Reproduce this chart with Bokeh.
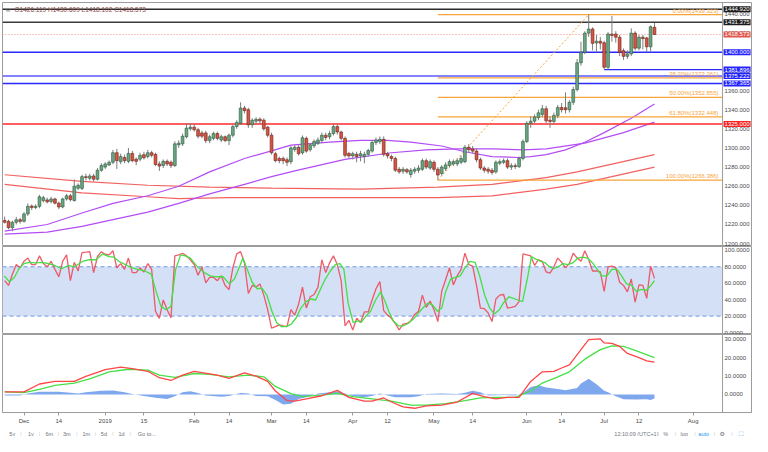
from bokeh.plotting import figure
from bokeh.layouts import column
from bokeh.models import (Range1d, FixedTicker, NumeralTickFormatter, Span, Label,
                          BoxAnnotation, ColumnDataSource)
from bokeh.embed import file_html
from bokeh.resources import INLINE

FONT = "Liberation Sans"

# ---------------- data ----------------
first_bar = -5   # bar index 0 = 3 Dec 2018 (weekday bars)

opens = [1224.3, 1223.3, 1216.7, 1222.3, 1225.0, 1223.3, 1231.0, 1239.3, 1237.7, 1239.0,
         1245.0, 1245.7, 1244.0, 1246.7, 1242.3, 1238.3, 1246.7, 1250.0, 1245.0, 1258.0,
         1257.7, 1270.0, 1268.3, 1270.7, 1267.3, 1276.7, 1280.0, 1282.3, 1285.0, 1295.0,
         1285.7, 1290.0, 1286.0, 1294.3, 1288.3, 1288.3, 1293.0, 1291.0, 1295.0, 1293.3,
         1283.3, 1281.7, 1286.0, 1285.0, 1281.7, 1303.3, 1304.3, 1311.7, 1320.0, 1321.7,
         1319.0, 1315.7, 1315.7, 1307.7, 1310.0, 1315.0, 1308.3, 1311.7, 1307.7, 1313.3,
         1322.3, 1325.7, 1341.7, 1340.0, 1324.3, 1328.0, 1330.0, 1329.0, 1321.7, 1313.3,
         1294.0, 1289.0, 1289.0, 1287.7, 1285.7, 1298.3, 1300.7, 1295.0, 1310.0, 1298.3,
         1302.3, 1305.0, 1307.7, 1313.3, 1311.7, 1315.0, 1322.3, 1316.7, 1310.0, 1294.3,
         1291.7, 1293.3, 1291.7, 1291.0, 1293.3, 1296.7, 1305.7, 1306.7, 1309.0, 1294.0,
         1291.0, 1289.0, 1277.7, 1275.7, 1277.3, 1272.3, 1275.7, 1276.7, 1277.7, 1286.7,
         1279.0, 1285.0, 1277.7, 1273.3, 1278.3, 1281.7, 1283.3, 1283.3, 1285.0, 1285.7,
         1300.7, 1299.0, 1296.7, 1287.7, 1279.0, 1277.7, 1276.7, 1275.0, 1284.0, 1285.0,
         1286.7, 1280.0, 1281.5, 1280.5, 1289.0, 1306.7, 1325.7, 1328.0, 1331.7, 1335.0,
         1341.0, 1329.0, 1327.7, 1334.0, 1342.3, 1342.0, 1340.0, 1347.7, 1361.0, 1389.0,
         1400.0, 1420.0, 1424.3, 1409.7, 1411.5, 1410.0, 1384.3, 1419.0, 1419.0, 1415.7,
         1401.7, 1395.7, 1398.3, 1420.0, 1404.3, 1415.7, 1415.0, 1405.7, 1426.119]
highs = [1228.3, 1225.0, 1224.0, 1228.0, 1227.0, 1233.0, 1242.0, 1241.0, 1241.0, 1251.0,
         1250.0, 1248.0, 1249.0, 1248.0, 1244.0, 1248.0, 1252.0, 1252.0, 1267.0, 1263.0,
         1272.0, 1273.0, 1273.0, 1273.0, 1279.0, 1284.0, 1285.0, 1287.0, 1298.0, 1299.0,
         1294.0, 1293.0, 1300.0, 1297.0, 1290.0, 1295.0, 1296.0, 1298.0, 1297.0, 1295.0,
         1286.0, 1288.0, 1288.0, 1287.0, 1307.0, 1308.0, 1315.0, 1326.0, 1326.0, 1325.0,
         1321.0, 1318.0, 1318.0, 1314.0, 1317.0, 1317.0, 1314.0, 1313.0, 1315.0, 1324.0,
         1329.0, 1347.7, 1344.0, 1342.0, 1331.0, 1332.0, 1332.0, 1331.0, 1323.0, 1316.0,
         1296.0, 1291.0, 1291.0, 1290.0, 1302.0, 1303.0, 1303.0, 1313.0, 1312.0, 1305.0,
         1309.0, 1311.0, 1316.0, 1316.0, 1318.0, 1325.0, 1325.0, 1318.0, 1312.0, 1296.0,
         1296.0, 1296.0, 1297.0, 1296.0, 1299.0, 1308.0, 1311.0, 1312.0, 1312.0, 1296.0,
         1293.0, 1291.0, 1280.0, 1280.0, 1279.0, 1279.0, 1280.0, 1282.0, 1289.0, 1289.0,
         1288.0, 1287.0, 1280.0, 1282.0, 1285.0, 1288.0, 1288.0, 1289.0, 1292.0, 1303.0,
         1304.0, 1302.0, 1299.0, 1290.0, 1281.0, 1280.0, 1279.0, 1287.0, 1288.0, 1289.0,
         1289.0, 1284.0, 1284.0, 1291.0, 1309.0, 1328.0, 1333.0, 1335.0, 1340.0, 1345.0,
         1344.0, 1333.0, 1337.0, 1345.0, 1347.0, 1358.0, 1350.0, 1364.0, 1393.0, 1411.0,
         1422.0, 1439.3, 1426.0, 1418.0, 1416.0, 1412.0, 1421.0, 1438.0, 1422.0, 1418.0,
         1404.0, 1402.0, 1425.0, 1422.0, 1418.0, 1418.0, 1416.0, 1428.0, 1430.609]
lows = [1221.0, 1215.0, 1213.0, 1220.0, 1221.0, 1222.0, 1229.0, 1235.0, 1236.0, 1237.0,
        1243.0, 1242.0, 1242.0, 1241.0, 1236.0, 1237.0, 1245.0, 1244.0, 1244.0, 1256.0,
        1256.0, 1266.0, 1266.0, 1265.0, 1266.0, 1275.0, 1278.0, 1281.0, 1283.0, 1278.0,
        1283.0, 1284.0, 1284.0, 1285.0, 1282.0, 1286.0, 1288.0, 1289.0, 1290.0, 1281.0,
        1276.0, 1279.0, 1281.0, 1279.0, 1280.0, 1300.0, 1302.0, 1310.0, 1318.0, 1317.0,
        1310.0, 1310.0, 1305.0, 1305.0, 1308.0, 1308.0, 1306.0, 1306.0, 1303.0, 1311.0,
        1320.0, 1324.0, 1336.0, 1321.0, 1321.0, 1325.0, 1325.0, 1318.0, 1311.0, 1293.0,
        1285.0, 1284.0, 1283.0, 1281.0, 1283.0, 1296.0, 1292.0, 1293.0, 1295.0, 1296.0,
        1300.0, 1303.0, 1305.0, 1308.0, 1309.0, 1313.0, 1314.0, 1308.0, 1290.0, 1289.0,
        1288.0, 1285.0, 1286.0, 1284.0, 1291.0, 1295.0, 1303.0, 1304.0, 1291.0, 1289.0,
        1286.0, 1275.0, 1273.0, 1273.0, 1273.0, 1269.0, 1273.0, 1274.0, 1276.0, 1278.0,
        1277.0, 1275.0, 1266.4, 1271.0, 1276.0, 1280.0, 1281.0, 1281.0, 1283.0, 1284.0,
        1295.0, 1294.0, 1285.0, 1277.0, 1274.0, 1273.0, 1272.0, 1273.0, 1282.0, 1283.0,
        1278.0, 1277.0, 1278.0, 1279.0, 1287.0, 1305.0, 1321.0, 1326.0, 1329.0, 1332.0,
        1326.0, 1321.0, 1325.0, 1331.0, 1337.0, 1336.0, 1337.0, 1345.0, 1359.0, 1386.0,
        1398.0, 1416.0, 1402.0, 1400.0, 1403.0, 1381.9, 1382.0, 1411.0, 1410.0, 1396.0,
        1392.0, 1393.0, 1396.0, 1402.0, 1402.0, 1403.0, 1400.0, 1401.0, 1418.102]
closes = [1222.3, 1216.7, 1222.3, 1225.0, 1223.3, 1231.0, 1239.0, 1237.7, 1239.0, 1249.0,
          1248.0, 1243.7, 1246.7, 1242.3, 1238.3, 1246.7, 1250.0, 1246.0, 1260.0, 1261.0,
          1270.0, 1269.0, 1270.7, 1267.3, 1276.7, 1281.7, 1283.3, 1285.0, 1295.0, 1286.7,
          1291.0, 1286.7, 1294.3, 1286.7, 1286.0, 1292.3, 1289.7, 1295.0, 1292.3, 1282.7,
          1281.0, 1286.0, 1283.3, 1281.7, 1304.3, 1305.0, 1312.3, 1320.7, 1321.7, 1319.0,
          1312.3, 1312.3, 1307.7, 1311.7, 1315.0, 1310.0, 1311.7, 1307.7, 1313.3, 1322.3,
          1326.7, 1341.7, 1339.0, 1324.3, 1329.0, 1330.0, 1328.3, 1320.0, 1313.3, 1295.0,
          1286.7, 1286.7, 1286.7, 1285.0, 1300.0, 1300.7, 1294.0, 1310.7, 1296.7, 1303.3,
          1306.7, 1308.3, 1313.3, 1311.0, 1315.0, 1322.3, 1316.7, 1310.0, 1292.3, 1291.7,
          1294.0, 1291.0, 1294.0, 1293.3, 1297.3, 1305.7, 1308.3, 1309.0, 1293.3, 1291.7,
          1289.0, 1276.7, 1275.0, 1277.7, 1275.0, 1276.7, 1277.7, 1279.0, 1286.7, 1280.0,
          1285.7, 1277.7, 1271.7, 1280.0, 1282.3, 1285.7, 1285.7, 1286.7, 1289.0, 1300.7,
          1298.3, 1296.7, 1287.7, 1279.0, 1276.7, 1275.7, 1274.3, 1285.0, 1285.7, 1286.7,
          1280.0, 1281.5, 1280.5, 1289.0, 1306.7, 1325.7, 1328.0, 1332.3, 1336.7, 1341.0,
          1328.3, 1327.7, 1334.0, 1342.3, 1340.0, 1340.0, 1347.7, 1361.0, 1389.0, 1400.0,
          1420.0, 1424.3, 1409.3, 1411.5, 1409.5, 1384.3, 1419.0, 1417.5, 1415.7, 1400.0,
          1395.7, 1398.3, 1420.0, 1404.3, 1415.7, 1414.3, 1405.7, 1426.7, 1418.573]

# moving averages
ma_fast_idx = [-5, 6, 15, 23, 32, 40, 48, 57, 64, 69, 79, 87, 94, 100, 108, 114, 121, 128, 131, 135, 140, 145, 150, 157, 163]
ma_fast_val = [1213, 1220, 1232, 1242, 1250, 1260, 1275, 1289, 1297, 1303, 1306, 1308, 1308, 1306, 1302, 1296, 1291, 1290, 1291, 1293, 1298, 1306, 1316, 1331, 1346]
ma_slow_idx = [-5, 6, 15, 23, 32, 40, 48, 57, 64, 70, 83, 95, 104, 112, 121, 129, 135, 145, 155, 163]
ma_slow_val = [1210, 1212, 1218, 1225, 1233, 1242, 1252, 1262, 1270, 1276, 1288, 1295, 1298, 1299, 1299, 1298, 1299, 1305, 1316, 1327]
ma_red1_idx = [-5, 15, 32, 48, 64, 87, 107, 121, 135, 143, 152, 163]
ma_red1_val = [1272, 1265, 1261, 1259, 1258, 1257, 1259, 1262, 1269, 1275, 1283, 1293]
ma_red2_idx = [-5, 15, 32, 40, 53, 64, 87, 107, 121, 135, 143, 152, 163]
ma_red2_val = [1262, 1253, 1249, 1247, 1248, 1248, 1248, 1248, 1250, 1257, 1262, 1270, 1280]

# horizontal levels
level_prices = [1444.920, 1431.375, 1400.000, 1375.222, 1367.365, 1325.000]
partial_level = 1381.896
partial_level_start = 150
fib_prices = [1439.323, 1373.261, 1352.855, 1332.448, 1266.386]
fib_names = ["0.00%", "38.20%", "50.00%", "61.80%", "100.00%"]
fib_start = 107
fib_peak = 146
tag_prices = [1444.920, 1431.375, 1418.573, 1400.000, 1381.896, 1375.222, 1367.365, 1325.000]

# stochastic
stoch_k = [63.1, 57.3, 71.0, 82.7, 78.8, 86.7, 90.6, 82.7, 82.7, 93.3,
           83.9, 80.0, 86.7, 76.9, 67.8, 86.7, 94.5, 63.1, 85.5, 74.9, 97.3,
           97.8,
           98.4, 72.9, 92.5, 98.4, 95.3, 94.5, 99.6, 78.8, 83.9, 76.9,
           90.6, 72.9, 72.9, 78.8, 73.7, 83.9, 76.9, 25.9, 17.3, 39.6,
           27.8, 18.0, 93.3, 94.5, 96.5, 93.3, 88.6, 82.7, 69.8, 80.0,
           60.4, 67.1, 67.1, 63.1, 69.0, 57.3, 52.2, 78.8, 95.7, 98.4,
           84.7, 47.5, 57.3, 55.3, 59.2, 45.5, 27.8, 5.4, 7.1, 9.4,
           8.2, 7.1, 27.8, 21.2, 34.5, 55.3, 29.8, 43.5, 46.3, 55.3,
           88.6, 72.9, 84.7, 93.3, 82.7, 63.1, 8.2, 14.9, 3.1, 17.3,
           12.2, 25.1, 25.1, 39.6, 53.3, 62.0, 26.7, 21.2, 17.3, 11.0, 3.1, 10.2, 11.0,
           14.1, 22.0, 25.9, 45.5, 30.6, 38.4, 27.8, 13.3, 50.2, 64.3,
           78.8, 58.0, 69.0, 76.9, 96.5, 82.7, 80.8, 57.3, 29.8, 29.0,
           23.9, 13.3, 40.8, 45.5, 46.3, 29.8,
           30.5,
           31.8, 37.6, 95.7, 94.5, 93.3, 81.6, 88.6, 86.7, 73.7, 72.2,
           80.0, 90.6, 85.5, 78.8, 83.9, 96.5, 90.6, 86.7, 99.6, 88.6,
           74.9, 74.9, 73.7, 50.2, 80.0, 80.8, 78.8, 61.2, 57.3, 49.4,
           65.1, 36.9, 58.0, 57.3, 41.6, 80.8, 65.9]
stoch_d_idx = [-5.1, -3.8, -2.5, -1.3, 0.0, 1.3, 2.9, 4.6, 6.3, 8.0, 9.7, 11.4, 13.0, 15.2, 16.9,
               18.6, 20.3, 22.0, 23.2, 24.5, 26.2, 27.9, 29.5, 31.2, 32.9, 34.2, 35.4, 36.7, 38.0,
               39.2, 40.5, 41.7, 43.0, 44.7, 46.4, 48.1, 49.7, 51.4, 53.1, 54.4, 55.6, 56.6, 57.7,
               59.0, 60.3, 61.5, 62.8, 64.1, 65.3, 66.6, 67.8, 69.1, 70.4, 71.6, 72.9, 74.2, 75.4,
               76.7, 77.9, 79.2, 80.5, 81.7, 82.7, 83.8, 85.1, 86.4,
               87.1, 88.4, 89.6, 90.9, 92.2, 93.2, 94.3, 95.5, 96.8, 98.1, 99.3, 100.6, 101.8,
               103.1, 104.4, 105.6, 106.9, 108.0, 109.0, 110.3, 111.5, 112.8, 114.0, 115.3, 116.6,
               117.8, 119.1, 120.4, 121.6, 122.9, 124.1, 125.4, 127.7, 128.9, 130.2, 131.2, 132.3,
               133.6, 134.8,
               135.6, 136.9, 138.1, 139.4, 140.6, 141.9, 143.2, 144.4, 145.7, 147.0, 148.2, 149.4,
               150.7, 152.0, 153.3, 154.5, 155.8, 157.1, 158.3, 159.6, 160.9, 162.1, 163.0]
stoch_d = [69.0, 61.9, 67.0, 77.6, 83.9, 85.5, 84.7, 85.5, 83.9, 81.6, 77.6, 81.6, 80.0, 86.7, 88.6,
           88.6, 95.7, 92.5, 91.8, 86.7, 82.7, 78.8, 76.9, 74.9, 71.0, 49.4, 31.8, 27.8, 31.8,
           76.9, 94.5, 93.3, 90.6, 80.8, 73.7, 69.0, 67.8, 68.2, 59.2, 65.1, 78.8, 90.6, 76.9,
           61.2, 53.3, 54.1, 45.5, 25.9, 12.2, 7.1, 7.1, 10.2, 18.0, 29.8, 37.6, 40.8, 39.6,
           53.3, 65.1, 74.9, 82.7, 83.9, 76.9, 35.7, 12.2, 14.1,
           12.2, 20.0, 25.9, 39.6, 49.4, 39.6, 25.9, 14.1, 8.2, 8.2, 11.0, 16.1, 22.7,
           29.8, 35.7, 33.7, 25.9, 29.8, 49.4, 65.1, 67.1, 69.0, 78.8, 86.7, 85.5,
           69.0, 45.5, 29.8, 22.7, 27.8, 36.9, 43.5, 39.6, 37.6, 67.1, 92.5, 89.4,
           86.7, 84.7,
           80.8, 77.6, 80.0, 83.9, 82.7, 84.7, 90.6, 91.8, 90.6, 84.7, 76.9, 69.0,
           69.0, 76.9, 76.9, 69.0, 59.2, 57.3, 50.2, 52.5, 51.4, 57.3, 63.1]
stoch_band = [20, 80]

# MACD
macd_idx = [-5, 0, 4, 8, 13, 16, 21, 25, 28, 32, 35, 38, 41, 44, 46, 50, 53, 57, 60, 63, 65, 68, 70,
            73, 77, 81, 84, 88, 90, 93, 95, 98, 101, 104, 108, 112, 116, 119, 122, 125, 128, 131,
            134, 137, 139, 141, 144, 146, 149, 150, 152, 154, 156, 159, 161, 163]
macd_val = [1.4, 1.4, 5.7, 7.1, 7.1, 9.8, 13.5, 14.9, 14.0, 12.6, 9.1, 7.6, 10.5, 12.6, 11.9, 10.5,
            8.8, 11.7, 10.0, 7.1, 1.9, -3.3, -3.6, -2.4, -0.7, 2.2, -1.6, -3.6, -3.6, -1.9, -4.1,
            -6.7, -7.5, -6.2, -5.8, -4.1, 0.6, -1.2, -2.4, -1.6, -1.6, 7.1, 12.3, 12.6, 14.4, 16.1,
            24.4, 29.8, 30.2, 28.0, 27.8, 26.1, 22.3, 20.0, 18.3, 17.6]
signal_idx = [-5, 0, 4, 8, 13, 17, 22, 27, 32, 35, 39, 44, 48, 53, 58, 62, 65, 69, 72, 77, 81, 85,
              90, 95, 100, 104, 109, 114, 118, 122, 127, 131, 134, 138, 141, 145, 149, 152, 155, 158, 163]
signal_val = [1.4, 1.0, 2.8, 5.0, 6.2, 8.5, 12.3, 13.7, 13.2, 10.5, 9.3, 11.4, 10.9, 9.6, 10.5, 9.6,
              4.4, 0.5, -1.2, -0.4, 0.6, -1.2, -2.4, -3.6, -5.8, -5.8, -5.0, -3.3, -1.9, -1.6, -1.6,
              1.9, 6.2, 9.6, 12.3, 19.2, 24.4, 26.4, 26.1, 24.0, 20.0]
hist_idx = [-5, -1, 1, 4, 9, 12, 14, 16, 20, 23, 26, 28, 31, 34, 37, 39, 41, 43, 45, 47, 51, 53, 56,
            58, 60, 63, 65, 67, 69, 71, 73, 76, 78, 81, 83, 85, 88, 90, 92, 94, 96, 100, 102, 104,
            108, 112, 114, 116, 118, 120, 124, 127, 129, 131, 133, 135, 138, 140, 143, 144, 146,
            148, 150, 151, 153, 155, 158, 161, 162, 163]
hist_val = [-0.5, -0.5, 0.5, 1.5, 1.5, 1.0, 0.5, 1.2, 2.0, 2.2, 1.2, 0.3, -0.8, -1.8, -2.5, -1.0,
            1.2, 1.8, 0.8, -0.5, -1.3, -0.8, 0.8, 0.5, -0.8, -1.0, -3.0, -5.5, -5.0, -2.5, -1.5,
            0.5, 1.0, 1.8, 0.5, -0.8, -1.5, -0.8, 0.5, -0.5, -1.5, -1.5, -1.0, 0.3, 0.5, 0.3, 1.0,
            2.0, 1.2, -0.5, -0.3, -0.5, 1.0, 4.0, 5.0, 3.8, 3.0, 2.3, 3.5, 6.0, 8.6, 5.5, 2.0,
            1.2, -1.0, -2.6, -2.8, -2.6, -3.0, -2.2]

date_ticks = [0, 9, 21, 31, 44, 53, 64, 73, 85, 94, 106, 116, 130, 139, 150, 159, 173]
date_labels = ["Dec", "14", "2019", "15", "Feb", "14", "Mar", "14", "Apr", "12", "May", "14",
               "Jun", "14", "Jul", "12", "Aug"]
price_ticks = [1200, 1220, 1240, 1260, 1280, 1300, 1320, 1340, 1360, 1380, 1400, 1420, 1440]
stoch_ticks = [0, 20, 40, 60, 80, 100]
macd_ticks = [0, 10, 20, 30]

assert len(opens) == len(highs) == len(lows) == len(closes) == len(stoch_k) == 169

# ---------------- layout ----------------
W = 752
BL = 2
AX = "#9c9c9c"
TXT = "#4a4a4a"
X0, XEDGE = -5.56, 180.6          # visible bar span (price-scale strip sits to the right)
AXIS_PX = 29
FRAME_W = W - BL
x_end = X0 + (XEDGE - X0) * FRAME_W / (FRAME_W - AXIS_PX)
x_rng = Range1d(X0, x_end)


def style_y(p, ticks, fmt):
    ax = p.yaxis[0]
    ax.ticker = FixedTicker(ticks=ticks)
    ax.formatter = NumeralTickFormatter(format=fmt)
    ax.major_label_text_font = FONT
    ax.major_label_text_font_size = "6px"
    ax.major_label_text_color = TXT
    ax.axis_line_color = None
    ax.major_tick_line_color = None
    ax.major_tick_out = 0
    ax.major_tick_in = 0
    ax.minor_tick_line_color = None
    ax.major_label_standoff = -(AXIS_PX - 2)


def base(height, yr, top=0, bottom=0, xaxis=False):
    p = figure(width=W, height=height, x_range=x_rng, y_range=yr, output_backend="svg",
               toolbar_location=None, y_axis_location="right",
               x_axis_location="below" if xaxis else None,
               min_border_left=BL, min_border_right=0, min_border_top=top,
               min_border_bottom=bottom)
    p.grid.visible = False
    p.outline_line_color = AX
    p.background_fill_color = "white"
    p.border_fill_color = "white"
    p.add_layout(Span(location=XEDGE, dimension="height", line_color=AX, line_width=1))
    return p


def hline(p, y, x0=X0, **kw):
    p.segment(x0=[x0], x1=[XEDGE], y0=[y], y1=[y], **kw)


# ---- main price pane ----
p1 = base(246, Range1d(1197, 1452), top=2)
style_y(p1, price_ticks, "0.000")

bars = list(range(first_bar, first_bar + len(opens)))


def candle_source(rising):
    d = dict(x=[], top=[], bot=[])
    for b, o, c in zip(bars, opens, closes):
        if (c >= o) == rising:
            d["x"].append(b)
            d["top"].append(max(o, c))
            d["bot"].append(min(o, c))
    return ColumnDataSource(d)


# MAs
p1.line(ma_red1_idx, ma_red1_val, line_color="#f24f4f", line_width=1.2, line_alpha=0.9)
p1.line(ma_red2_idx, ma_red2_val, line_color="#f24f4f", line_width=1.2, line_alpha=0.9)
p1.line(ma_slow_idx, ma_slow_val, line_color="#b44cf5", line_width=1.2)
p1.line(ma_fast_idx, ma_fast_val, line_color="#b44cf5", line_width=1.2)

# horizontal levels
lvl_colors = ["#2b2b2b", "#3a3a3a", "#2a2aff", "#5a5aff", "#2a2aff", "#ff2a2a"]
for price, col in zip(level_prices, lvl_colors):
    hline(p1, price, line_color=col, line_width=1.4)
hline(p1, partial_level, x0=partial_level_start, line_color="#2a2aff", line_width=1.4)
hline(p1, closes[-1], line_color="#f08a8a", line_width=1, line_dash="1 2")

# fibonacci
FIB = "#f7a43a"
for price in fib_prices:
    hline(p1, price, x0=fib_start, line_color=FIB, line_width=1.3)
p1.line([fib_start, fib_peak], [fib_prices[-1], fib_prices[0]], line_color=FIB,
        line_width=1, line_dash="2 2")
for name, price in zip(fib_names, fib_prices):
    p1.add_layout(Label(x=XEDGE, y=price, x_offset=-4, y_offset=1,
                        text=f"{name}({price:.3f})", text_align="right",
                        text_baseline="bottom", text_font=FONT, text_font_size="6px",
                        text_color=FIB))

# candles
p1.segment(x0=bars, x1=bars, y0=highs, y1=lows, line_color="#7d7d80", line_width=1)
p1.vbar(x="x", width=0.72, top="top", bottom="bot", source=candle_source(True),
        fill_color="#6ba583", line_color="#2a5a3c", line_width=0.6)
p1.vbar(x="x", width=0.72, top="top", bottom="bot", source=candle_source(False),
        fill_color="#d75442", line_color="#6a2218", line_width=0.6)

# price tags on the price scale
tag_colors = ["#1c1c1c", "#1c1c1c", "#e2574c", "#2323ff", "#2323ff", "#2323ff", "#2323ff", "#ff2020"]
for price, col in zip(tag_prices, tag_colors):
    p1.add_layout(Label(x=XEDGE, y=price, x_offset=1, text=f"{price:.3f}",
                        text_align="left", text_baseline="middle", text_font=FONT,
                        text_font_size="6px", text_color="white",
                        background_fill_color=col, padding=1))

# OHLC legend
p1.add_layout(Label(x=X0, y=1452, x_offset=3, y_offset=-3, text="\u2296",
                    text_baseline="top", text_font="DejaVu Sans", text_font_size="6px",
                    text_color="#888888"))
p1.add_layout(Label(x=X0, y=1452, x_offset=12, y_offset=-3,
                    text=f"O{opens[-1]:.3f}  H{highs[-1]:.3f}  L{lows[-1]:.3f}  C{closes[-1]:.3f}",
                    text_baseline="top", text_font=FONT, text_font_size="6.5px",
                    text_color="#8c4a46"))

# ---- stochastic pane ----
p2 = base(88, Range1d(-2.4, 104.7))
style_y(p2, stoch_ticks, "0.0000")
p2.add_layout(BoxAnnotation(bottom=stoch_band[0], top=stoch_band[1], left=X0, right=XEDGE,
                            fill_color="#d3e0f6", fill_alpha=1.0, line_alpha=0,
                            level="underlay"))
for lv in stoch_band:
    hline(p2, lv, line_color="#7095e4", line_width=1, line_dash="4 3")
p2.line(bars, stoch_k, line_color="#ee4a58", line_width=1.3, line_alpha=0.9)
p2.line(stoch_d_idx, stoch_d, line_color="#45de45", line_width=1.3)

# ---- MACD pane ----
p3 = base(92, Range1d(-9.8, 32.6), bottom=13, xaxis=True)
style_y(p3, macd_ticks, "0.0000")
p3.varea(x=hist_idx, y1=[0] * len(hist_idx), y2=hist_val, fill_color="#7fa7ee")
p3.line(signal_idx, signal_val, line_color="#45e045", line_width=1.3)
p3.line(macd_idx, macd_val, line_color="#ff4646", line_width=1.3)
xa = p3.xaxis[0]
xa.ticker = FixedTicker(ticks=date_ticks)
xa.major_label_overrides = {t: s for t, s in zip(date_ticks, date_labels)}
xa.major_label_text_font = FONT
xa.major_label_text_font_size = "6px"
xa.major_label_text_color = TXT
xa.axis_line_color = AX
xa.major_tick_line_color = AX
xa.major_tick_out = 3
xa.major_tick_in = 0
xa.minor_tick_line_color = None
xa.major_label_standoff = 2

# ---- bottom bar ----
p4 = figure(width=W, height=10, x_range=Range1d(0, 768), y_range=Range1d(0, 10),
            output_backend="svg", toolbar_location=None, x_axis_location=None,
            y_axis_location=None, min_border=0)
p4.grid.visible = False
p4.outline_line_color = None
p4.background_fill_color = "white"
p4.border_fill_color = "white"
bar_items = [(10, "5y"), (29, "1y"), (48, "6m"), (66, "3m"), (86, "1m"), (104, "5d"),
             (122, "1d"), (148, "Go to..."), (650, "12:10:09 (UTC+1)"), (680, "%"),
             (699, "log")]
for xx, tt in bar_items:
    p4.add_layout(Label(x=xx, y=5, text=tt, text_align="center", text_baseline="middle",
                        text_font=FONT, text_font_size="5.5px", text_color="#6f737d"))
for xx in (19, 38, 57, 76, 95, 113, 131, 672, 690, 710, 730, 748):
    p4.add_layout(Label(x=xx, y=5, text="|", text_align="center", text_baseline="middle",
                        text_font=FONT, text_font_size="5.5px", text_color="#c9ccd3"))
p4.add_layout(Label(x=719, y=5, text="auto", text_align="center", text_baseline="middle",
                    text_font=FONT, text_font_size="5.5px", text_color="#2196f3"))
p4.add_layout(Label(x=738, y=5, text="\u2699", text_align="center", text_baseline="middle",
                    text_font="DejaVu Sans", text_font_size="6px", text_color="#6f737d"))
p4.add_layout(Label(x=757, y=5, text="\u26f6", text_align="center", text_baseline="middle",
                    text_font="DejaVu Sans", text_font_size="6px", text_color="#2196f3"))

layout = column(p1, p2, p3, p4, spacing=0)
open("out.html", "w").write(file_html(layout, INLINE))
